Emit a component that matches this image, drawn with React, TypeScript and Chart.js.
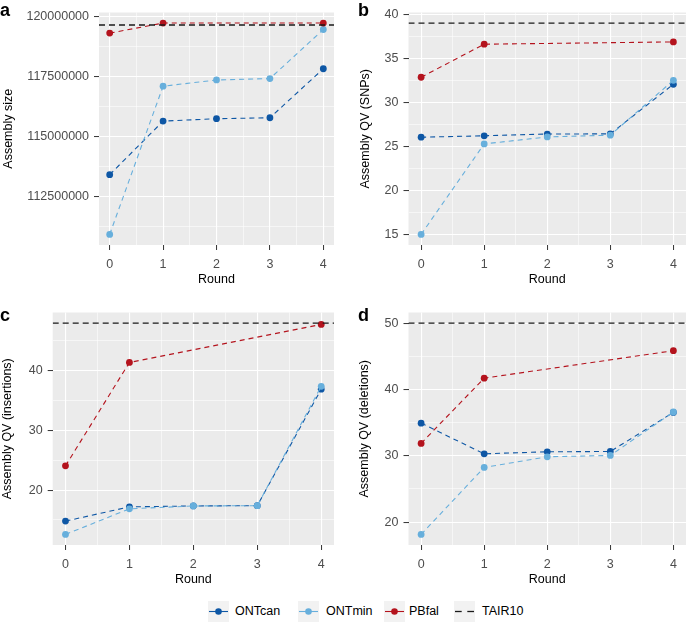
import React, { useEffect, useRef } from 'react';
import { Chart, registerables } from 'chart.js';

Chart.register(...registerables);

// ---------- data ----------
const rounds = [0, 1, 2, 3, 4];
const pbRounds = [0, 1, 4];
const xTickLabels = [0, 1, 2, 3, 4];

const aONTcan = [113400000, 115640000, 115740000, 115780000, 117830000];
const aONTmin = [110900000, 117100000, 117360000, 117420000, 119470000];
const aPBfal = [119320000, 119740000, 119740000];
const aTAIR10 = 119660000;
const aYTicks = [112500000, 115000000, 117500000, 120000000];

const bONTcan = [26.04, 26.2, 26.4, 26.42, 32.05];
const bONTmin = [15.0, 25.28, 26.07, 26.27, 32.5];
const bPBfal = [32.85, 36.6, 36.86];
const bTAIR10 = 39.0;
const bYTicks = [15, 20, 25, 30, 35, 40];

const cONTcan = [14.81, 17.2, 17.35, 17.4, 36.93];
const cONTmin = [12.58, 16.87, 17.35, 17.4, 37.4];
const cPBfal = [24.07, 41.4, 47.77];
const cTAIR10 = 48.0;
const cYTicks = [20, 30, 40];

const dONTcan = [34.92, 30.3, 30.6, 30.65, 36.54];
const dONTmin = [18.15, 28.25, 29.85, 30.05, 36.6];
const dPBfal = [31.87, 41.7, 45.84];
const dTAIR10 = 50;
const dYTicks = [20, 30, 40, 50];

const seriesNames = ['ONTcan', 'ONTmin', 'PBfal', 'TAIR10'];

// ---------- style ----------
const COLORS: Record<string, string> = {
  ONTcan: '#0e57a5',
  ONTmin: '#67afdc',
  PBfal: '#b4131d',
  TAIR10: '#1a1a1a',
};
const FONT = "'Liberation Sans', Arial, Helvetica, sans-serif";
const FS = 12.5;

type Spec = {
  id: string;
  left: number;
  top: number;
  yTitle: string;
  ontcan: number[];
  ontmin: number[];
  pbfal: number[];
  tair: number;
  yTicks: number[];
  axisWidth: number;
  padRight: number;
  yTitlePad: number;
};

const specs: Spec[] = [
  { id: 'a', left: 0, top: 0, yTitle: 'Assembly size', ontcan: aONTcan, ontmin: aONTmin, pbfal: aPBfal, tair: aTAIR10, yTicks: aYTicks, axisWidth: 99, padRight: 11, yTitlePad: 1.5 },
  { id: 'b', left: 345, top: 0, yTitle: 'Assembly QV (SNPs)', ontcan: bONTcan, ontmin: bONTmin, pbfal: bPBfal, tair: bTAIR10, yTicks: bYTicks, axisWidth: 63.5, padRight: 0.5, yTitlePad: 13.5 },
  { id: 'c', left: 0, top: 300, yTitle: 'Assembly QV (insertions)', ontcan: cONTcan, ontmin: cONTmin, pbfal: cPBfal, tair: cTAIR10, yTicks: cYTicks, axisWidth: 52.7, padRight: 11, yTitlePad: 0 },
  { id: 'd', left: 345, top: 300, yTitle: 'Assembly QV (deletions)', ontcan: dONTcan, ontmin: dONTmin, pbfal: dPBfal, tair: dTAIR10, yTicks: dYTicks, axisWidth: 63.5, padRight: 0.5, yTitlePad: 12.5 },
];

const bgPlugin = {
  id: 'panelBg',
  beforeDraw(chart: any) {
    const { ctx, chartArea } = chart;
    if (!chartArea) return;
    ctx.save();
    ctx.fillStyle = '#ebebeb';
    ctx.fillRect(chartArea.left, chartArea.top, chartArea.right - chartArea.left, chartArea.bottom - chartArea.top);
    ctx.restore();
  },
};

function near(a: number, list: number[], tol: number) {
  return list.some((m) => Math.abs(m - a) < tol);
}

function Panel({ spec }: { spec: Spec }) {
  const ref = useRef<HTMLCanvasElement>(null);
  useEffect(() => {
    if (!ref.current) return;
    const allVals = [...spec.ontcan, ...spec.ontmin, ...spec.pbfal, spec.tair];
    const lo = Math.min(...allVals);
    const hi = Math.max(...allVals);
    const pad = (hi - lo) * 0.05;
    const yMin = lo - pad;
    const yMax = hi + pad;
    const xMin = rounds[0] - 0.2;
    const xMax = rounds[rounds.length - 1] + 0.2;
    const step = spec.yTicks[1] - spec.yTicks[0];
    const yTol = step / 100;
    const yMinorCand = [spec.yTicks[0] - step / 2, ...spec.yTicks.map((m) => m + step / 2)];
    const yAll = [...spec.yTicks, ...yMinorCand].filter((v) => v >= yMin && v <= yMax).sort((p, q) => p - q);
    const xMinor = xTickLabels.slice(0, -1).map((v) => v + 0.5);
    const xAll = [...xTickLabels, ...xMinor].sort((p, q) => p - q);

    const isMajX = (v: number) => near(v, xTickLabels, 0.01);
    const isMajY = (v: number) => near(v, spec.yTicks, yTol);

    const lineDs = (name: string, xs: number[], ys: number[], order: number) => ({
      label: name,
      data: xs.map((x, i) => ({ x, y: ys[i] })),
      borderColor: COLORS[name],
      backgroundColor: COLORS[name],
      borderWidth: 1.1,
      borderDash: [5, 4],
      pointRadius: 3.4,
      pointBorderWidth: 0,
      pointBackgroundColor: COLORS[name],
      tension: 0,
      order,
    });

    const gridFor = (isMaj: (v: number) => boolean) => ({
      color: '#ffffff',
      lineWidth: (ctx: any) => (ctx.tick && isMaj(ctx.tick.value) ? 1.1 : 0.55),
      tickColor: (ctx: any) => (ctx.tick && isMaj(ctx.tick.value) ? '#333333' : 'rgba(0,0,0,0)'),
      tickWidth: 1,
      tickLength: 5,
      drawOnChartArea: true,
      drawTicks: true,
    });

    const chart = new Chart(ref.current, {
      type: 'line',
      data: {
        datasets: [
          {
            label: 'TAIR10',
            data: [{ x: xMin, y: spec.tair }, { x: xMax, y: spec.tair }],
            borderColor: COLORS.TAIR10,
            borderWidth: 1.3,
            borderDash: [6, 4],
            pointRadius: 0,
            order: 0,
          } as any,
          lineDs('PBfal', pbRounds, spec.pbfal, 1),
          lineDs('ONTmin', rounds, spec.ontmin, 2),
          lineDs('ONTcan', rounds, spec.ontcan, 3),
        ],
      },
      options: {
        animation: false,
        responsive: false,
        devicePixelRatio: 1,
        layout: { padding: { left: 0, right: spec.padRight, top: 12, bottom: 0 } },
        plugins: { legend: { display: false }, tooltip: { enabled: false } },
        scales: {
          x: {
            type: 'linear',
            min: xMin,
            max: xMax,
            afterBuildTicks: (ax: any) => {
              ax.ticks = xAll.map((v) => ({ value: v }));
            },
            afterFit: (ax: any) => {
              ax.height = 55;
            },
            ticks: {
              autoSkip: false,
              maxRotation: 0,
              padding: 7,
              color: '#4d4d4d',
              font: { family: FONT, size: FS },
              callback: (v: any) => (isMajX(Number(v)) ? String(Math.round(Number(v))) : ''),
            },
            grid: gridFor(isMajX),
            border: { display: false },
            title: {
              display: true,
              text: 'Round',
              color: '#000000',
              font: { family: FONT, size: FS },
              padding: { top: 0, bottom: 12.5 },
            },
          },
          y: {
            type: 'linear',
            min: yMin,
            max: yMax,
            afterBuildTicks: (ax: any) => {
              ax.ticks = yAll.map((v) => ({ value: v }));
            },
            afterFit: (ax: any) => {
              ax.width = spec.axisWidth;
            },
            ticks: {
              autoSkip: false,
              padding: 5,
              color: '#4d4d4d',
              font: { family: FONT, size: FS },
              callback: (v: any) => (isMajY(Number(v)) ? String(Math.round(Number(v) * 100) / 100) : ''),
            },
            grid: gridFor(isMajY),
            border: { display: false },
            title: {
              display: true,
              text: spec.yTitle,
              color: '#000000',
              font: { family: FONT, size: FS },
              padding: { top: spec.yTitlePad, bottom: 0 },
            },
          },
        },
      } as any,
      plugins: [bgPlugin],
    });
    return () => chart.destroy();
  }, [spec]);

  return (
    <>
      <canvas
        ref={ref}
        width={345}
        height={300}
        style={{ position: 'absolute', left: spec.left, top: spec.top, width: 345, height: 300, display: 'block' }}
      />
      <div
        style={{
          position: 'absolute',
          left: spec.left + (spec.left > 0 ? 13 : 0),
          top: spec.top + 0.5 + (spec.top > 0 ? 5.5 : 0),
          fontFamily: FONT,
          fontWeight: 'bold',
          fontSize: 18,
          lineHeight: '18px',
          color: '#000',
        }}
      >
        {spec.id}
      </div>
    </>
  );
}

function LegendKey({ name }: { name: string }) {
  const c = COLORS[name];
  return (
    <svg width={21} height={21} style={{ display: 'block', background: '#f2f2f2' }}>
      {name === 'TAIR10' ? (
        <>
          <line x1={1} y1={10.5} x2={7.7} y2={10.5} stroke={c} strokeWidth={1.3} />
          <line x1={13.3} y1={10.5} x2={20} y2={10.5} stroke={c} strokeWidth={1.3} />
        </>
      ) : (
        <>
          <line x1={1} y1={10.5} x2={20} y2={10.5} stroke={c} strokeWidth={1.1} />
          <circle cx={10.5} cy={10.5} r={3.3} fill={c} />
        </>
      )}
    </svg>
  );
}

const legendPos: Record<string, [number, number]> = {
  ONTcan: [208, 235],
  ONTmin: [298, 326],
  PBfal: [384, 409],
  TAIR10: [454, 482],
};

export default function App() {
  return (
    <div style={{ position: 'absolute', left: 0, top: 0, width: 690, height: 623, background: '#ffffff', overflow: 'hidden' }}>
      {specs.map((s) => (
        <Panel key={s.id} spec={s} />
      ))}
      {seriesNames.map((n) => (
        <React.Fragment key={n}>
          <div style={{ position: 'absolute', left: legendPos[n][0], top: 601 }}>
            <LegendKey name={n} />
          </div>
          <div
            style={{
              position: 'absolute',
              left: legendPos[n][1],
              top: 603,
              fontFamily: FONT,
              fontSize: FS,
              lineHeight: '17px',
              color: '#000',
              whiteSpace: 'nowrap',
            }}
          >
            {n}
          </div>
        </React.Fragment>
      ))}
    </div>
  );
}
